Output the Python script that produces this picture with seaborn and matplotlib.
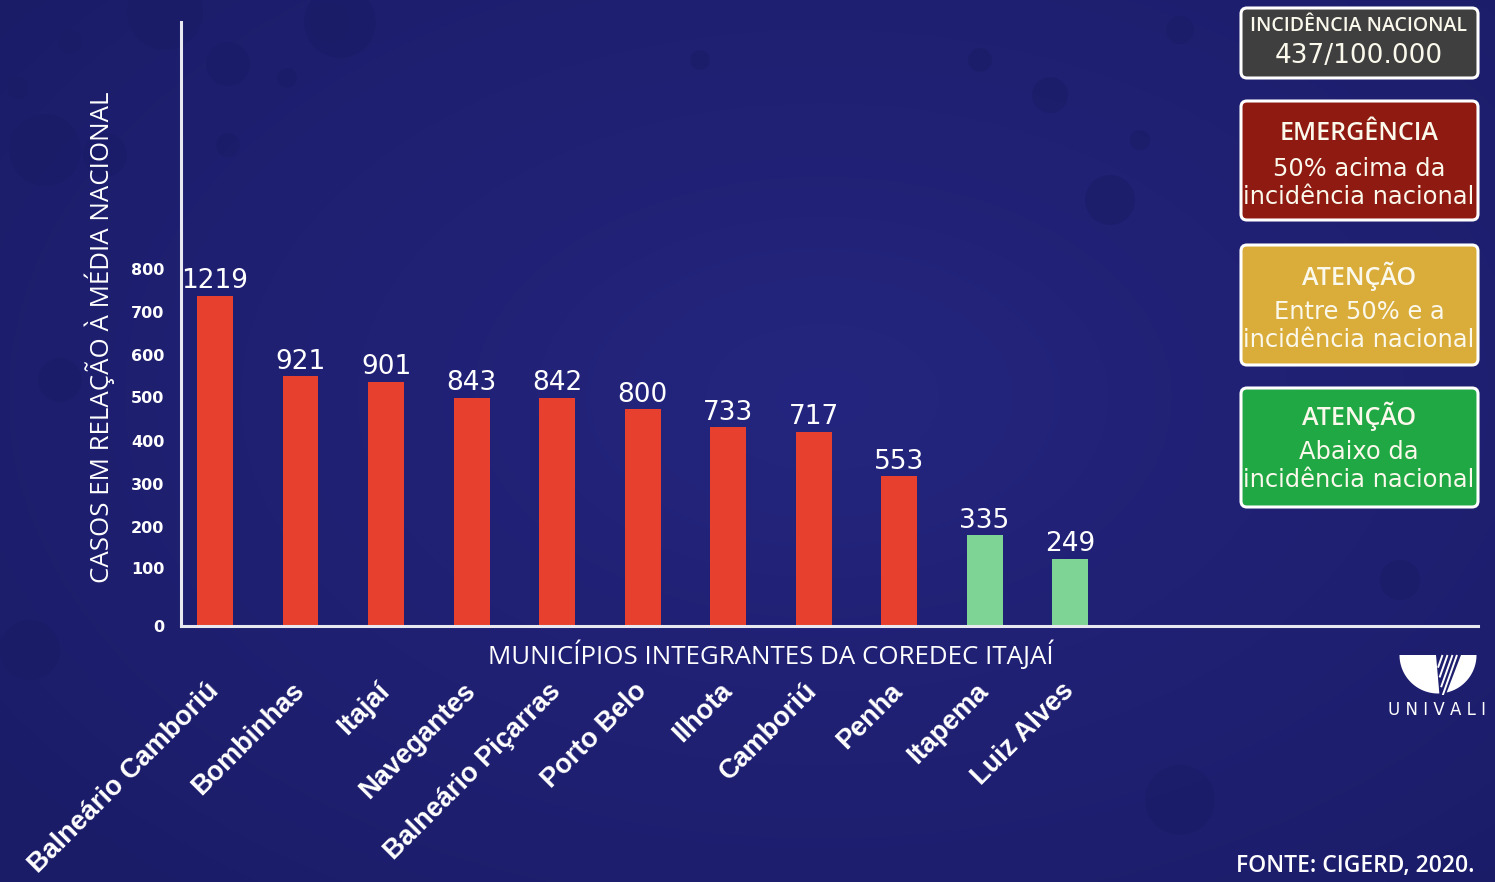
import matplotlib
matplotlib.use("Agg")
import matplotlib.pyplot as plt
import matplotlib.colors as mcolors
import seaborn as sns
import numpy as np
import pandas as pd
from matplotlib.patches import FancyBboxPatch, Circle, Polygon

# ---------------- data ----------------
municipios = ["Balneário Camboriú", "Bombinhas", "Itajaí", "Navegantes",
              "Balneário Piçarras", "Porto Belo", "Ilhota", "Camboriú",
              "Penha", "Itapema", "Luiz Alves"]
casos = [1219, 921, 901, 843, 842, 800, 733, 717, 553, 335, 249]
situacao = ["Emergência", "Emergência", "Emergência", "Emergência",
            "Emergência", "Emergência", "Emergência", "Emergência",
            "Emergência", "Abaixo", "Abaixo"]
# y tick labels as printed on the original axis (and where they sit)
ytick_labels = ["0", "100", "200", "300", "400", "500", "600", "700", "800"]
ytick_pos = [0, 214, 365, 524, 683, 845, 1000, 1159, 1317]

cor_barra = {"Emergência": "#E8402F", "Abaixo": "#7DD494"}

W, H = 1495, 882
BG = "#22237A"

sns.set_style("white")
plt.rcParams["font.family"] = ["DejaVu Sans"]

fig = plt.figure(figsize=(W / 100, H / 100), dpi=100)
fig.patch.set_facecolor(BG)

# ---------------- background ----------------
bgax = fig.add_axes([0, 0, 1, 1], zorder=-10)
yy, xx = np.mgrid[0:H, 0:W]
r = np.sqrt(((xx - W * 0.55) / (W * 0.7)) ** 2 + ((yy - H * 0.45) / (H * 0.75)) ** 2)
r = np.clip(r, 0, 1)
c_in = np.array(mcolors.to_rgb("#24257E"))
c_out = np.array(mcolors.to_rgb("#1B1C68"))
img = c_in[None, None, :] * (1 - r[..., None]) + c_out[None, None, :] * r[..., None]
bgax.imshow(img, extent=[0, W, H, 0], aspect="auto")
bubbles = [(165, 12, 38), (45, 150, 36), (340, 22, 36), (70, 42, 12), (18, 88, 11),
           (105, 155, 22), (228, 145, 12), (287, 78, 10), (330, 22, 20), (228, 64, 22),
           (1050, 95, 18), (1110, 200, 25), (980, 60, 12), (1180, 30, 14),
           (1140, 140, 10), (60, 380, 22), (30, 650, 30), (1180, 800, 35),
           (700, 60, 10), (1400, 580, 20)]
for bx, by, br in bubbles:
    bgax.add_patch(Circle((bx, by), br, color="#1B1C68", alpha=0.7, lw=0))
bgax.set_xlim(0, W)
bgax.set_ylim(H, 0)
bgax.axis("off")

# ---------------- main chart ----------------
ax = fig.add_axes([181 / W, 1 - 626 / H, 1297 / W, 604 / H])
ax.patch.set_alpha(0)

df = pd.DataFrame({"municipio": municipios, "casos": casos, "situacao": situacao})
sns.barplot(data=df, x="municipio", y="casos", hue="situacao", palette=cor_barra,
            dodge=False, width=0.42, saturation=1, legend=False, ax=ax,
            linewidth=0, edgecolor="none")

for cont in ax.containers:
    ax.bar_label(cont, fmt="%d", padding=1, color="white", fontsize=19,
                 family="DejaVu Sans")

ax.set_xlim(-0.398, 14.77)
ax.set_ylim(0, 2229)

for s in ["top", "right"]:
    ax.spines[s].set_visible(False)
for s in ["left", "bottom"]:
    ax.spines[s].set_color("#E8E8F0")
    ax.spines[s].set_linewidth(2.2)

ax.set_yticks(ytick_pos)
ax.set_yticklabels(ytick_labels)
ax.tick_params(axis="y", length=0, pad=12, labelsize=11.5, labelcolor="white")
for t in ax.get_yticklabels():
    t.set_fontweight("bold")

ax.set_xticks(range(len(municipios)))
ax.set_xticklabels(municipios, rotation=45, ha="right", va="center",
                   rotation_mode="anchor", fontsize=19.5, color="white",
                   family="Liberation Sans", fontweight="bold")
ax.tick_params(axis="x", length=0, pad=44)

ax.set_xlabel("MUNICÍPIOS INTEGRANTES DA COREDEC ITAJAÍ", fontsize=18.6,
              color="white", family="Open Sans")
ax.xaxis.set_label_coords(0.455, -0.048)
ax.xaxis.label.set_va("center")

ax.set_ylabel("CASOS EM RELAÇÃO À MÉDIA NACIONAL", fontsize=18.6,
              color="white", family="Open Sans")
ax.yaxis.set_label_coords(-0.0625, 0.478)
ax.yaxis.label.set_va("center")


# ---------------- legend boxes ----------------
def fx(x):
    return x / W


def fy(y):
    return 1 - y / H


def box(x0, y0, x1, y1, fc):
    p = FancyBboxPatch((fx(x0), fy(y1)), (x1 - x0) / W, (y1 - y0) / H,
                       boxstyle="round,pad=0,rounding_size=0.004",
                       mutation_aspect=W / H,
                       transform=fig.transFigure, fc=fc, ec="white", lw=2.2)
    fig.patches.append(p)


def txt(x, y, s, size, family="DejaVu Sans", ha="center", color="#FBF8EC",
        weight="normal"):
    fig.text(fx(x), fy(y), s, fontsize=size, family=family, ha=ha, va="center",
             color=color, fontweight=weight)


box(1241, 8, 1478, 78, "#3F3F40")
txt(1359, 26, "INCIDÊNCIA NACIONAL", 14, "Open Sans", weight="semibold")
txt(1359, 56, "437/100.000", 19)

box(1241, 101, 1478, 220, "#8E1A12")
txt(1359, 134, "EMERGÊNCIA", 18, "Open Sans", weight="semibold")
txt(1359, 169, "50% acima da", 17.4)
txt(1359, 197, "incidência nacional", 17.4)

box(1241, 245, 1478, 365, "#DAAD3B")
txt(1359, 276, "ATENÇÃO", 18, "Open Sans", weight="semibold")
txt(1359, 312, "Entre 50% e a", 17.4)
txt(1359, 340, "incidência nacional", 17.4)

box(1241, 388, 1478, 507, "#20A845")
txt(1359, 416, "ATENÇÃO", 18, "Open Sans", weight="semibold")
txt(1359, 452, "Abaixo da", 17.4)
txt(1359, 480, "incidência nacional", 17.4)

# footer
txt(1475, 866, "FONTE: CIGERD, 2020.", 16.5, "Open Sans", ha="right", color="white",
    weight="semibold")

# ---------------- logo ----------------
lax = fig.add_axes([1398 / W, 1 - 695 / H, 80 / W, 42 / H])
lax.set_xlim(-40, 40)
lax.set_ylim(-40, 2)
lax.axis("off")
R = 38.5
a1 = np.radians(np.linspace(180, 272, 60))
left = np.column_stack([R * np.cos(a1), R * np.sin(a1)])
left = np.vstack([left, [[-2, 0]]])
lax.add_patch(Polygon(left, closed=True, fc="white", ec="none"))
a2 = np.radians(np.linspace(283, 360, 60))
right = np.column_stack([R * np.cos(a2), R * np.sin(a2)])
right = np.vstack([right, [[23, 0]]])
lax.add_patch(Polygon(right, closed=True, fc="white", ec="none"))
d = np.array([13.3, 37.5]) / np.hypot(13.3, 37.5)
for xt in [4.5, 9.5, 14.5, 19.0]:
    t = (xt + 2) / (d[0] + 6 / 38 * d[1])
    x_end = xt - d[0] * t
    y_end = -d[1] * t
    lax.plot([x_end, xt], [y_end, 0], color="white", lw=1.4, solid_capstyle="butt")
fig.text(fx(1437), fy(710), "U N I V A L I", fontsize=12, family="DejaVu Sans",
         color="white", ha="center", va="center")

fig.savefig("out.png", dpi=100, facecolor=fig.get_facecolor())
